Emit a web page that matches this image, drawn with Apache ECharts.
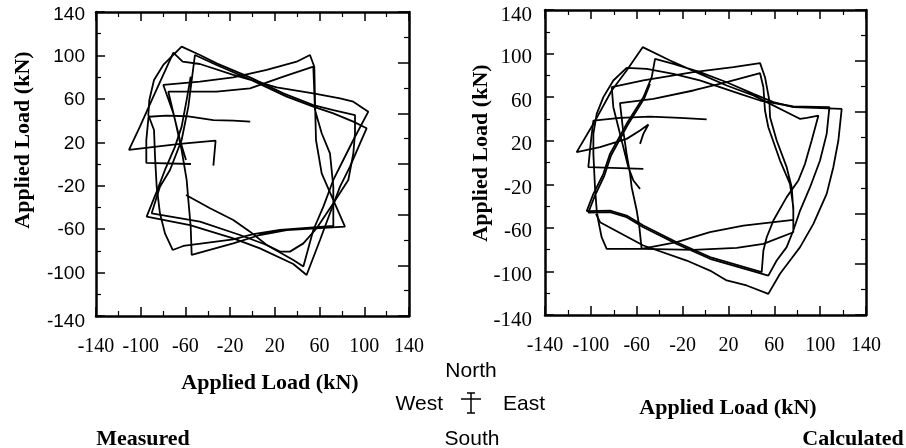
<!DOCTYPE html>
<html>
<head>
<meta charset="utf-8">
<script src="https://cdn.jsdelivr.net/npm/echarts@6/dist/echarts.min.js"></script>
<style>
html, body { margin: 0; padding: 0; background: #fff; }
#chart { width: 906px; height: 448px; }
</style>
</head>
<body>
<div id="chart"></div>
<script>
// tick values shared by both panels (kN)
var loadTicks = [-140, -100, -60, -20, 20, 60, 100, 140];

// Measured panel, [east-west load, north-south load] in kN
var measuredStart = [[-2, 39], [-17, 40], [-35, 40.5], [-59, 44], [-77, 44.5], [-93, 43.5], [-95, 22], [-95, 1], [-55, 0]];
var measuredLoopsA = [
    [-35, -1.5], [-33, 21.5], [-65, 18.5], [-110.5, 13], [-100.7, 34.4], [-88.7, 62], [-70.8, 102.5],
    [-62.5, 94.2], [-47, 92.1], [-17.2, 82], [21.6, 70.6], [54.4, 65.1], [78.3, 60.4], [90.2, 57.4], [103.6, 48.2],
    [90.2, 22.1], [81.2, 3.7], [72.3, -14.7], [63.4, -39.3], [54.4, -60.8], [45.5, -94.5],
    [36.5, -88.4], [12.7, -74.6], [-11.2, -65.4], [-47, -53.1], [-90.2, -45.4],
    [-82.8, -20.9], [-73.8, -5.5], [-63.4, 22.1], [-57.4, 52.8], [-51.5, 100.4],
    [-32.1, 91.2], [-2.2, 78], [30.6, 62], [54.4, 52.8], [72.3, 46.7], [90.2, 39], [102.1, 32.9],
    [96.2, 19], [87.2, -2.4], [78.3, -20.9], [69.3, -45.4], [60.4, -70], [48.4, -102.2],
    [36.5, -92.1], [6.7, -77.7], [-17.2, -68.5], [-55.9, -56.2], [-94.7, -48.5],
    [-85.7, -25.5], [-78.3, -5.5], [-69.3, 16], [-63.4, 34.4], [-58.9, 59], [-55.3, 80.4]
];
var measuredLoopsB = [
    [-59.5, 3.7], [-64.9, 22.1], [-70.8, 46.7], [-79.8, 72.8],
    [-47, 75.8], [-17.2, 79.8], [12.7, 86.6], [39.5, 94.2], [51.4, 100.4],
    [55.3, 89.6], [55.9, 59], [56.8, 22.1], [61.9, -8.6], [72.3, -33.2], [82.7, -57.7],
    [30.6, -60.8], [6.7, -65.4], [-17.2, -73.1], [-54.4, -83.8],
    [-55.3, -57.7], [-57.4, -33.2], [-58.9, -14.7], [-63.4, 12.9], [-69.3, 40.6], [-75.3, 66.6],
    [-32.1, 66.6], [-2.2, 69.7], [27.6, 80.4], [54.4, 89.6],
    [55.9, 49.7], [61.9, 28.3], [69.3, 9.8], [72.3, -20.9], [72.3, -57.1],
    [24.6, -60.8], [0.7, -64.5], [-17.2, -69.4], [-61.9, -75.5], [-71.4, -79.2],
    [-78.3, -63.9], [-82.8, -45.4], [-85.7, -20.9], [-87.2, 6.8], [-88.1, 31.3], [-93.2, 45.1],
    [-92.3, 59], [-88.1, 77.4], [-79.8, 91.2], [-63.4, 108.1],
    [-47, 100.4], [-32.1, 92.7], [-2.2, 79.8], [27.6, 65.1], [54.4, 54.3], [72.3, 49.7], [91.7, 45.1],
    [91.7, 28.3], [90.2, 9.8], [85.7, -14.7], [72.3, -36.2], [57.4, -59.2], [45.5, -73.1], [33.5, -80.7], [24.6, -80.7],
    [12.7, -74.6], [-2.2, -62.3], [-17.2, -51.6], [-38, -40.8], [-59.5, -28.5]
];

// Calculated panel
var calculatedStart = [[1, 39.5], [-22.2, 41], [-48.4, 42.2], [-74.6, 41], [-97.8, 38.5], [-100.2, 17.1], [-102.2, -4.3], [-54.2, -5.8]];
var calculatedLoopsA = [
    [-57.1, 17.1], [-54.2, 26.3], [-49.8, 34.9], [-57.1, 29.4], [-68.8, 21.7], [-92, 14.1], [-112.4, 9.5],
    [-97.8, 35.5], [-81.8, 66.1], [-68.8, 84.4], [-54.8, 105.9],
    [-30.9, 93.6], [-4.8, 81.4], [18.5, 70.7], [41.8, 61.5], [53.4, 55.4], [76.6, 43.1], [82.5, 40.1], [88.3, 41], [98.5, 43.1],
    [92.6, 20.2], [86.8, -1.2], [81, -16.5], [70.8, -31.8], [59.2, -53.3], [53.4, -68.6], [50.5, -80.8], [49, -100.7],
    [3.9, -86.9], [-25.1, -73.2], [-54.2, -57.9], [-68.8, -48.7], [-83.3, -44.1], [-103.6, -44.7],
    [-97.8, -28.8], [-89.1, -10.4], [-83.3, 7.9], [-68.8, 35.5], [-54.2, 59.9], [-46.9, 78.3], [-44, 95.1],
    [-28, 90.6], [-4.8, 82.9], [18.5, 73.7], [41.8, 63], [59.2, 55.4], [76.6, 50.8], [118.8, 49.3],
    [115.9, 20.2], [111.5, -4.3], [105.7, -28.8], [94.1, -56.3], [82.5, -77.7], [73.7, -90], [65, -102.2], [54.8, -120.6],
    [35.9, -112.9], [18.5, -108.3], [3.9, -99.2], [-16.4, -90], [-54.2, -76.2], [-92, -54.8], [-95.5, -47.1]
];
var calculatedLoopsB = [
    [-57.1, -24.2], [-62.9, -16.5], [-67.3, -4.3], [-71.7, 14.1], [-76, 32.4], [-80.4, 50.8], [-81.8, 69.1],
    [-54.2, 75.3], [-10.6, 82.9], [24.3, 87.5], [47.6, 91.2],
    [51.9, 78.3], [55.7, 56.9], [56.3, 41.6], [62.1, 20.2], [70.8, -4.3], [75.2, -22.7], [76.6, -44.1], [76.6, -52.6],
    [33, -57.9], [3.9, -64], [-25.1, -73.2], [-55.7, -79.3],
    [-57.7, -59.4], [-60, -44.1], [-64.4, -22.7], [-65.8, -10.4], [-68.8, 7.9], [-72.2, 32.4], [-74.6, 54.5],
    [-45.5, 58.4], [-10.6, 66.1], [18.5, 73.7], [47.6, 82],
    [50.5, 69.1], [51.9, 47.7], [54.8, 32.4], [65, 1.8], [73.7, -19.6], [76.6, -41], [76.6, -64],
    [50.5, -74.7], [27.2, -78.4], [-10.6, -80.2], [-54.2, -79.3], [-86.2, -79.3],
    [-90.6, -68.6], [-93.5, -53.3], [-94.9, -44.1], [-96.4, -22.7], [-97.8, 7.9], [-97.8, 26.3],
    [-94.9, 44.7], [-89.1, 60], [-80.4, 75.3], [-68.8, 86.9],
    [-51.3, 86], [-28, 81.4], [-5, 75.3], [30.1, 63], [47.6, 56.9], [76.6, 51.4], [108.1, 50.8],
    [105.7, 26.3], [99.9, 1.8], [91.2, -22.7], [82.5, -44.1], [76.6, -62.4], [70.8, -77.7], [62.1, -90], [54.8, -103.8],
    [3.9, -88.4], [-25.1, -74.7], [-54.2, -59.4], [-68.8, -50.2], [-83.3, -45.6], [-102.2, -45.9],
    [-96.4, -30.3], [-88.2, -12], [-82.4, 6.4], [-68.2, 33.9], [-53.6, 58.4], [-48.4, 72.2]
];

var serif = '"Liberation Serif", "Times New Roman", serif';
var sans = '"Liberation Sans", Arial, sans-serif';

var chart = echarts.init(document.getElementById('chart'));

function loadAxis(grid, position, labelFont, labelSize, margin, padTop) {
    var ax = {
        type: 'value',
        gridIndex: grid,
        position: position,
        min: loadTicks[0],
        max: loadTicks[loadTicks.length - 1],
        interval: loadTicks[1] - loadTicks[0],
        axisLine: { show: true, onZero: false, lineStyle: { color: '#000', width: 2.5 } },
        axisTick: { show: true, inside: true, length: 9, lineStyle: { color: '#000', width: 1.5 } },
        minorTick: { show: true, splitNumber: 2, length: 5, lineStyle: { color: '#000', width: 1.2 } },
        splitLine: { show: false },
        axisLabel: {
            show: labelFont != null,
            color: '#000',
            fontFamily: labelFont,
            fontSize: labelSize,
            margin: margin,
            showMinLabel: true,
            showMaxLabel: true
        }
    };
    if (padTop) {
        // labels sit a little below their ticks in the original
        ax.axisLabel.formatter = function (v) {
            var k = 'm';
            if (v === loadTicks[loadTicks.length - 1]) k = 't';
            if (v === loadTicks[0]) k = 'b';
            return '{' + k + '|' + v + '}';
        };
        var base = { color: '#000', fontFamily: labelFont, fontSize: labelSize };
        ax.axisLabel.rich = {
            m: Object.assign({ padding: [padTop[0], 0, 0, 0] }, base),
            t: Object.assign({ padding: [padTop[1], 0, 0, 0] }, base),
            b: Object.assign({ padding: [padTop[2], 0, 0, 0] }, base)
        };
    }
    return ax;
}

// the right edge of each box carries its own tick spacing (6 steps)
function rightAxis(grid) {
    return {
        type: 'value',
        gridIndex: grid,
        position: 'right',
        min: 0,
        max: 6,
        interval: 1,
        axisLine: { show: true, onZero: false, lineStyle: { color: '#000', width: 2.5 } },
        axisTick: { show: true, inside: true, length: 11, lineStyle: { color: '#000', width: 1.5 } },
        minorTick: { show: true, splitNumber: 2, length: 5, lineStyle: { color: '#000', width: 1.2 } },
        splitLine: { show: false },
        axisLabel: { show: false }
    };
}

function trace(data, xi, yi) {
    return {
        type: 'line',
        xAxisIndex: xi,
        yAxisIndex: yi,
        data: data,
        showSymbol: false,
        symbol: 'none',
        silent: true,
        animation: false,
        lineStyle: { color: '#000', width: 1.8 }
    };
}

function label(text, x, y, font, size, weight, align) {
    return {
        type: 'text',
        x: x,
        y: y,
        style: {
            text: text,
            fill: '#000',
            fontFamily: font,
            fontSize: size,
            fontWeight: weight || 'normal',
            align: align || 'center',
            verticalAlign: 'middle'
        }
    };
}

function stroke(x1, y1, x2, y2) {
    return {
        type: 'line',
        shape: { x1: x1, y1: y1, x2: x2, y2: y2 },
        style: { stroke: '#000', lineWidth: 1.5 }
    };
}

var yTitleLeft = label('Applied Load (kN)', 23, 140, serif, 22, 'bold');
yTitleLeft.rotation = Math.PI / 2;
var yTitleRight = label('Applied Load (kN)', 481, 153, serif, 22, 'bold');
yTitleRight.rotation = Math.PI / 2;

var option = {
    backgroundColor: '#fff',
    animation: false,
    grid: [
        { left: 96, top: 12, width: 313, height: 304 },
        { left: 545, top: 10, width: 321, height: 305 }
    ],
    xAxis: [
        loadAxis(0, 'bottom', serif, 20, 21),
        loadAxis(0, 'top', null, 0, 0),
        loadAxis(1, 'bottom', serif, 20, 21),
        loadAxis(1, 'top', null, 0, 0)
    ],
    yAxis: [
        loadAxis(0, 'left', sans, 19, 11, [2, 6, 12]),
        rightAxis(0),
        loadAxis(1, 'left', serif, 21, 13, [8, 10, 10]),
        rightAxis(1)
    ],
    series: [
        trace(measuredStart, 0, 0),
        trace(measuredLoopsA, 0, 0),
        trace(measuredLoopsB, 0, 0),
        trace(calculatedStart, 2, 2),
        trace(calculatedLoopsA, 2, 2),
        trace(calculatedLoopsB, 2, 2)
    ],
    graphic: [
        yTitleLeft,
        yTitleRight,
        label('Applied Load (kN)', 270, 383, serif, 22, 'bold'),
        label('Applied Load (kN)', 728, 408, serif, 22, 'bold'),
        label('Measured', 143, 439, serif, 22, 'bold'),
        label('Calculated', 853, 439, serif, 22, 'bold'),
        label('North', 471, 371, sans, 21),
        label('South', 472, 439, sans, 21),
        label('West', 443, 404, sans, 21, 'normal', 'right'),
        label('East', 503, 404, sans, 21, 'normal', 'left'),
        stroke(471, 393, 471, 413),
        stroke(467, 393, 475, 393),
        stroke(467, 413, 475, 413),
        stroke(461, 399, 481, 399)
    ]
};

chart.setOption(option);
</script>
</body>
</html>
